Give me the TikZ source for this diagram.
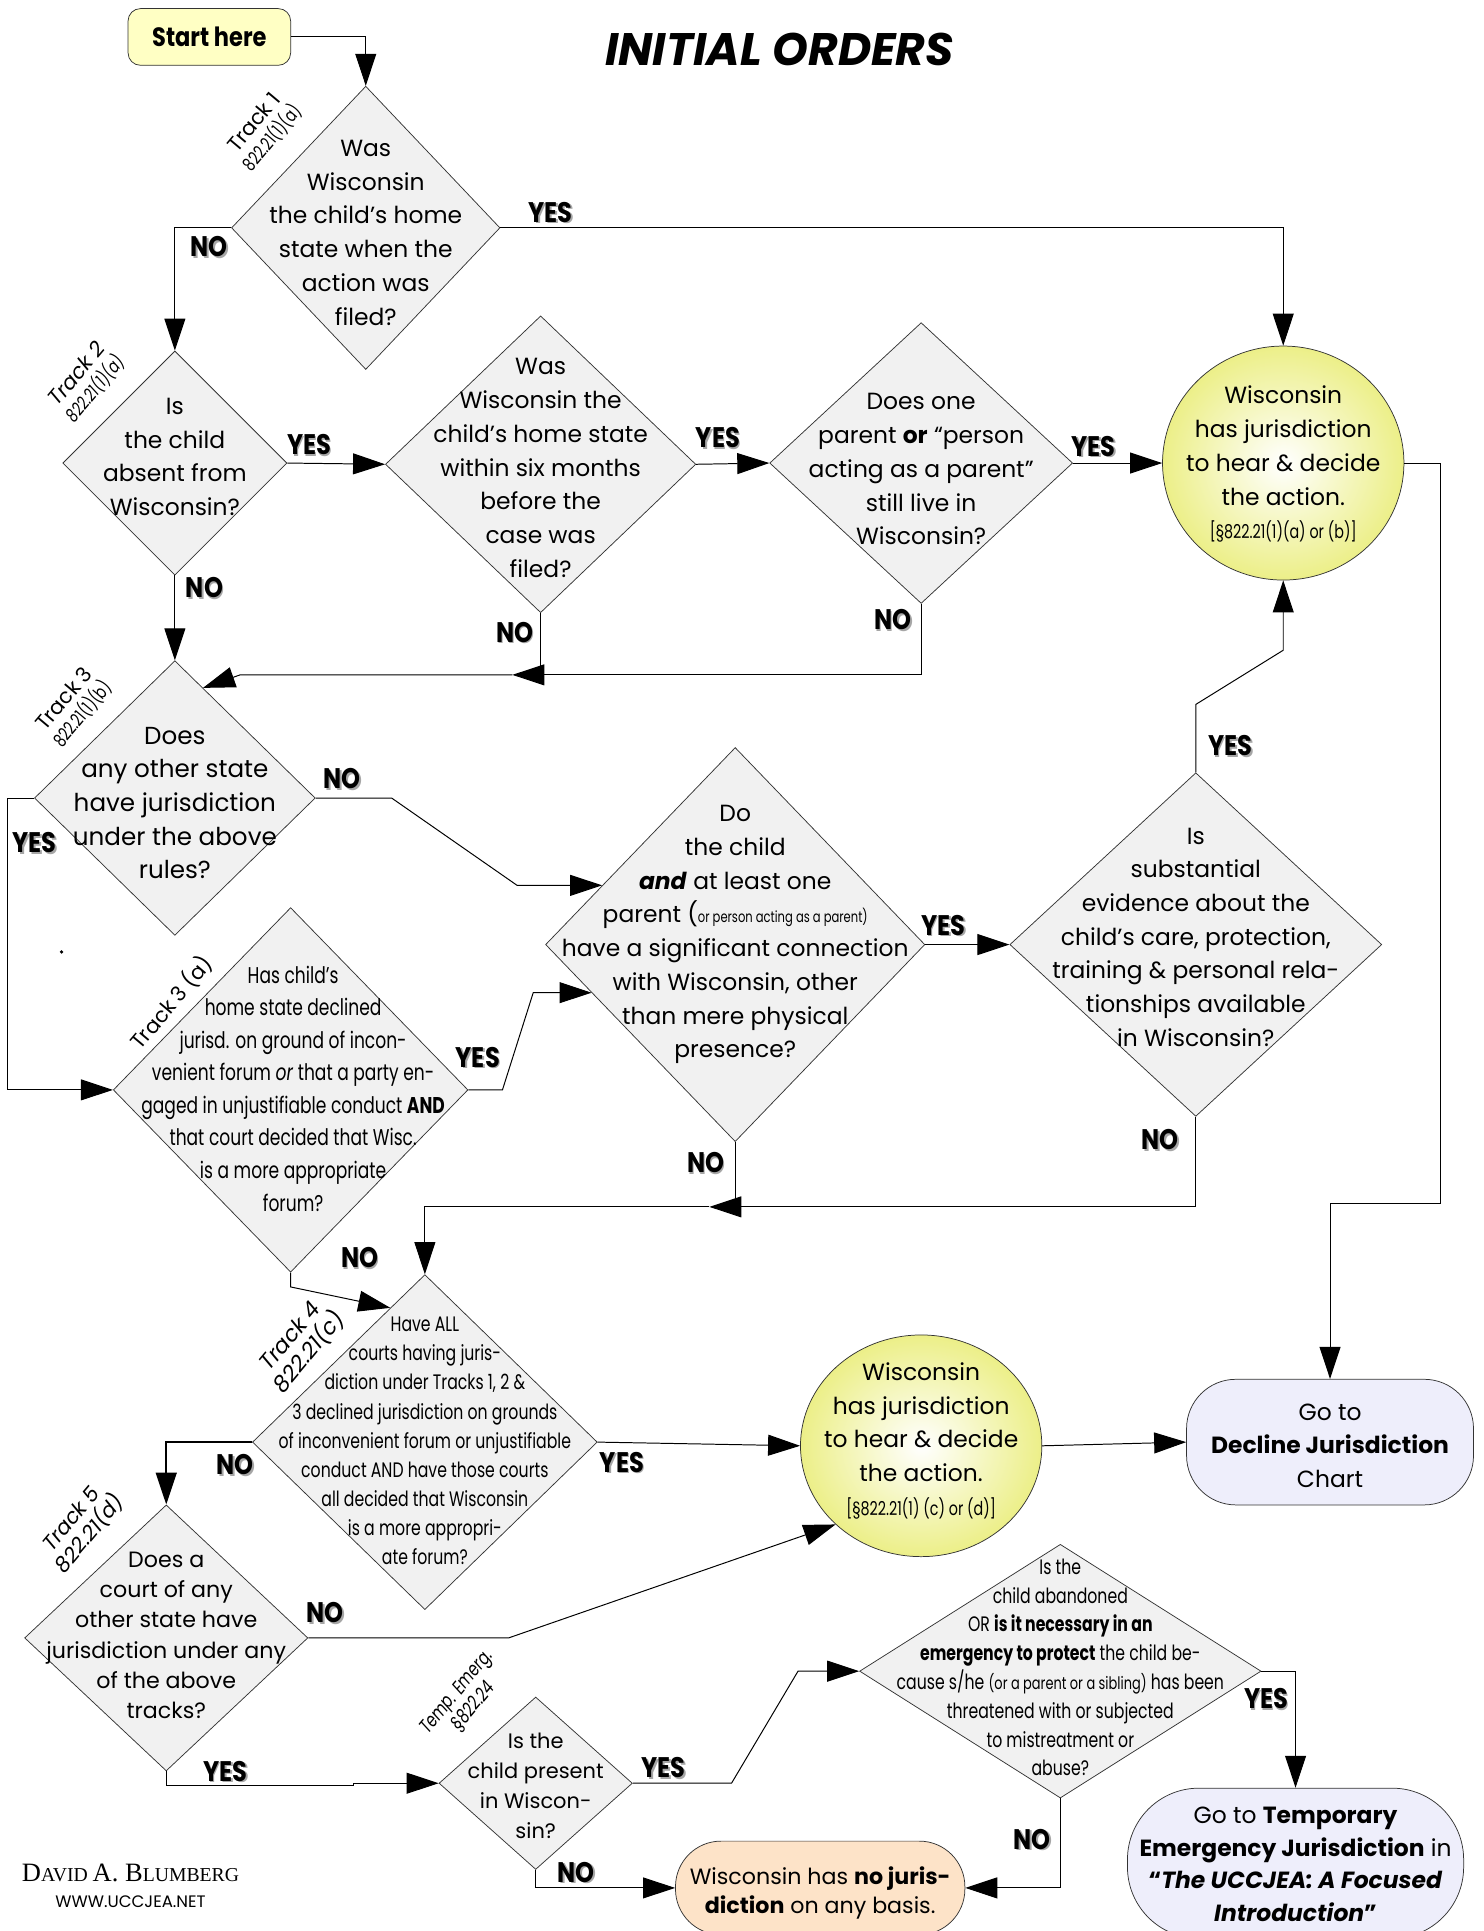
\documentclass[tikz,border=0pt]{standalone}
\usepackage{fontspec}
\setmainfont{Poppins}
\newfontfamily\condf[FakeStretch=0.75]{Poppins}
\newfontfamily\labf[FakeStretch=0.85]{Poppins}
\newfontfamily\serf{Liberation Serif}
\usetikzlibrary{shapes.geometric,arrows.meta,calc}
\definecolor{diafill}{HTML}{F1F1F1}
\definecolor{startfill}{HTML}{FFFFC4}
\definecolor{ellin}{HTML}{FFFFFF}
\definecolor{ellout}{HTML}{ECEF88}
\definecolor{lavfill}{HTML}{EEEEFB}
\definecolor{peachfill}{HTML}{FDE3C8}
\newcommand\fs[2]{\fontsize{#1}{#2}\selectfont}
\newcommand\shtext[1]{\rlap{\color{black!35}\raisebox{-1.3pt}{\kern1.3pt #1}}#1}
\tikzset{
  dia/.style={shape=diamond, draw=black!80, line width=0.6pt, fill=diafill, inner sep=0pt},
  txt/.style={align=center, inner sep=0pt, font=\fs{19}{27.4}},
  ctxt/.style={align=center, inner sep=0pt, font=\condf\fs{17}{23.6}},
  lab/.style={inner sep=0pt, font=\labf\bfseries\fs{23}{23}},
  ln/.style={line width=0.8pt, draw=black},
  arr/.style={ln, -{Triangle[length=26pt,width=17pt]}},
  trk/.style={align=center, inner sep=0pt, font=\fs{17}{19}},
  ell/.style={shape=ellipse, draw=black!80, line width=0.6pt, inner sep=0pt, shading=radial, inner color=ellin, outer color=ellout},
  rbox/.style={shape=rectangle, draw=black!80, line width=0.6pt, inner sep=0pt},
}
\newcommand\YES{\shtext{YES}}
\newcommand\NO{\shtext{NO}}
\begin{document}
\begin{tikzpicture}[x=1pt,y=-1pt]
\useasboundingbox (0,0) rectangle (1205,1568);
\fill[white] (0,0) rectangle (1205,1568);

% title and start
\node[font=\bfseries\itshape\fs{37}{37}] (title) at (633,40) {INITIAL ORDERS};
\node[rbox, rounded corners=10pt, fill=startfill, minimum width=132pt, minimum height=46pt, font=\labf\bfseries\fs{21.5}{21.5}] (start) at (170,30) {Start here};

% decision shapes
\node[dia, minimum width=218pt, minimum height=230pt] (D1) at (297,185) {};
\node[txt] (D1t) at (297,189) {Was\\Wisconsin\\the child’s home\\state when the\\action was\\filed?};

\node[dia, minimum width=182pt, minimum height=182pt] (D2) at (142,376) {};
\node[txt] (D2t) at (142,371) {Is\\the child\\absent from\\Wisconsin?};

\node[dia, minimum width=252pt, minimum height=241pt] (D3) at (439,377) {};
\node[txt] (D3t) at (439,380) {Was\\Wisconsin the\\child’s home state\\within six months\\before the\\case was\\filed?};

\node[dia, minimum width=246pt, minimum height=228pt] (D4) at (748,376) {};
\node[txt] (D4t) at (748,381) {Does one\\parent \textbf{or} “person\\acting as a parent”\\still live in\\Wisconsin?};

\node[ell, minimum width=196pt, minimum height=190pt] (E1) at (1042,376) {};
\node[txt] (E1t) at (1042,377) {Wisconsin\\has jurisdiction\\to hear \& decide\\the action.\\{\condf\fs{15.5}{20}[§822.21(1)(a) or (b)]}};

\node[dia, minimum width=228pt, minimum height=223pt] (D5) at (142,648) {};
\node[txt, font=\fs{20}{27.3}] (D5t) at (142,652) {Does\\any other state\\have jurisdiction\\under the above\\rules?};

\node[dia, minimum width=308pt, minimum height=320pt] (D6) at (597,767) {};
\node[txt] (D6t) at (597,759) {Do\\the child\\\textbf{\textit{and}} at least one\\parent ({\condf\fs{12.5}{12}or person acting as a parent)}\\have a significant connection\\with Wisconsin, other\\than mere physical\\presence?};

\node[dia, minimum width=288pt, minimum height=296pt] (D7) at (236,885) {};
\node[ctxt, font=\condf\fs{18.5}{26.4}] (D7t) at (238,884) {Has child’s\\home state declined\\jurisd. on ground of incon-\\venient forum \textit{or} that a party en-\\gaged in unjustifiable conduct \textbf{AND}\\that court decided that Wisc.\\is a more appropriate\\forum?};

\node[dia, minimum width=302pt, minimum height=279pt] (D8) at (971,767) {};
\node[txt] (D8t) at (971,761) {Is\\substantial\\evidence about the\\child’s care, protection,\\training \& personal rela-\\tionships available\\in Wisconsin?};

\node[dia, minimum width=280pt, minimum height=272pt] (D9) at (345,1171) {};
\node[ctxt] (D9t) at (345,1170) {Have ALL\\courts having juris-\\diction under Tracks 1, 2 \&\\3 declined jurisdiction on grounds\\of inconvenient forum or unjustifiable\\conduct AND have those courts\\all decided that Wisconsin\\is a more appropri-\\ate forum?};

\node[ell, minimum width=196pt, minimum height=180pt] (E2) at (748,1174) {};
\node[txt] (E2t) at (748,1170) {Wisconsin\\has jurisdiction\\to hear \& decide\\the action.\\{\condf\fs{15.5}{20}[§822.21(1) (c) or (d)]}};

\node[rbox, rounded corners=40pt, fill=lavfill, minimum width=233pt, minimum height=102pt] (Decline) at (1080,1171) {};
\node[txt] (Declinet) at (1080,1174) {Go to\\\textbf{Decline Jurisdiction}\\Chart};

\node[dia, minimum width=230pt, minimum height=216pt] (D10) at (135,1330) {};
\node[txt, font=\fs{18}{24.6}] (D10t) at (135,1328) {Does a\\court of any\\other state have\\jurisdiction under any\\of the above\\tracks?};

\node[dia, minimum width=157pt, minimum height=140pt] (D11) at (435,1448) {};
\node[txt, font=\fs{17}{24.5}] (D11t) at (435,1450) {Is the\\child present\\in Wiscon-\\sin?};

\node[dia, minimum width=326pt, minimum height=206pt] (D12) at (861,1357) {};
\node[ctxt, font=\condf\fs{17}{23.4}] (D12t) at (861,1354) {Is the\\child abandoned\\OR \textbf{is it necessary in an}\\\textbf{emergency to protect} the child be-\\cause s/he {\fs{14}{14}(or a parent or a sibling)} has been\\threatened with or subjected\\to mistreatment or\\abuse?};

\node[rbox, rounded corners=37pt, fill=peachfill, minimum width=235pt, minimum height=76pt] (NoJ) at (666,1533) {};
\node[txt, font=\fs{18}{24}] (NoJt) at (666,1537) {Wisconsin has \textbf{no juris-}\\\textbf{diction} on any basis.};

\node[rbox, rounded corners=58pt, fill=lavfill, minimum width=273pt, minimum height=122pt] (Temp) at (1052,1513) {};
\node[txt, font=\fs{19}{26.5}] (Tempt) at (1052,1514) {Go to \textbf{Temporary}\\\textbf{Emergency Jurisdiction} in\\\textbf{“\textit{The UCCJEA: A Focused}}\\\textbf{\textit{Introduction}”}};

% track labels
\node[trk, rotate=50] (tr1) at (214,106) {Track 1\\{\condf\fs{15}{15}822.21(1)(a)}};
\node[trk, rotate=50] (tr2) at (70,310) {\itshape Track 2\\{\condf\itshape\fs{15}{15}822.21(1)(a)}};
\node[trk, rotate=50] (tr3) at (60,574) {Track 3\\{\condf\fs{15}{15}822.21(1)(b)}};
\node[trk, rotate=50, font=\fs{17}{17}] (tr3a) at (139,814) {Track 3 (a)};
\node[trk, rotate=50, font=\itshape\fs{18}{20}] (tr4) at (244,1092) {Track 4\\822.21(c)};
\node[trk, rotate=50, font=\itshape\fs{17}{19}] (tr5) at (66,1240) {Track 5\\822.21(d)};
\node[trk, rotate=50, font=\condf\itshape\fs{16}{18}] (trT) at (378,1380) {Temp. Emerg.\\§822.24};

% connectors
\draw[arr] (start.east) -| (D1.north);
\draw[arr] (D1.east) -| (E1.north);
\draw[arr] (D1.west) -| (D2.north);
\draw[arr] (D2.east) -- (D3.west);
\draw[arr] (D3.east) -- (D4.west);
\draw[arr] (D4.east) -- (E1.west);
\draw[arr] (D2.south) -- (D5.north);
\coordinate (j1) at (416,548);
\draw[arr] (D4.south) |- (j1);
\draw[ln] (D3.south) -- (D3.south |- j1);
\draw[arr] (j1) -- (195,548) -- ($(D5.north)!0.2!(D5.east)$);
\draw[arr] (D5.east) -- (318,648) -- (420,719) -- ($(D6.north)!0.7!(D6.west)$);
\draw[arr] (D5.west) -- (6,648) |- (D7.west);
\draw[arr] (D7.east) -- (408,885) -- (433,806) -- ($(D6.west)!0.244!(D6.south)$);
\draw[arr] (D6.east) -- (D8.west);
\draw[arr] (D8.north) -- (971,572) -- (1042,528) -- (E1.south);
\draw[arr] (E1.east) -- (1170,376) -- (1170,977) -- (1080,977) -- (Decline.north);
\coordinate (j2) at (576,980);
\draw[arr] (D8.south) |- (j2);
\draw[ln] (D6.south) -- (D6.south |- j2);
\draw[arr] (j2) -| (D9.north);
\draw[arr] (D7.south) -- (236,1045) -- ($(D9.north)!0.2!(D9.west)$);
\draw[arr] (D9.east) -- (E2.west);
\draw[arr, line width=1.6pt] (D9.west) -| (D10.north);
\draw[arr] (E2.east) -- (Decline.west);
\draw[arr] (D10.east) -- (413,1330) -- (E2.south west);
\draw[arr] (D10.south) -- (135,1450) -- (287,1450) -- (287,1448) -- (D11.west);
\draw[arr] (D11.east) -- (594,1448) -- (648,1357) -- (D12.west);
\draw[arr] (D11.south) -- (435,1533) -- (NoJ.west);
\draw[arr] (D12.east) -| (Temp.north);
\draw[arr] (D12.south) |- (NoJ.east);

% YES / NO labels
\node[lab] (l1y) at (447,173) {\YES};
\node[lab] (l1n) at (170,201) {\NO};
\node[lab] (l2y) at (251,362) {\YES};
\node[lab] (l2n) at (166,478) {\NO};
\node[lab] (l3y) at (583,356) {\YES};
\node[lab] (l3n) at (418,514) {\NO};
\node[lab] (l4y) at (888,363) {\YES};
\node[lab] (l4n) at (725,504) {\NO};
\node[lab] (l5n) at (278,633) {\NO};
\node[lab] (l5y) at (28,685) {\YES};
\node[lab] (l7y) at (388,859) {\YES};
\node[lab] (l7n) at (292,1022) {\NO};
\node[lab] (l6y) at (766,752) {\YES};
\node[lab] (l6n) at (573,945) {\NO};
\node[lab] (l8y) at (999,606) {\YES};
\node[lab] (l8n) at (942,926) {\NO};
\node[lab] (l9y) at (505,1188) {\YES};
\node[lab] (l9n) at (191,1190) {\NO};
\node[lab] (l10n) at (264,1310) {\NO};
\node[lab] (l10y) at (183,1439) {\YES};
\node[lab] (l11y) at (539,1436) {\YES};
\node[lab] (l11n) at (468,1521) {\NO};
\node[lab] (l12y) at (1028,1380) {\YES};
\node[lab] (l12n) at (838,1494) {\NO};

% stray dot and footer
\fill (50,773) circle (1.5pt);
\node[inner sep=0pt] (auth) at (106,1521) {\serf\fs{21.5}{21.5}D\fs{16}{16}AVID \fs{21.5}{21.5}A. B\fs{16}{16}LUMBERG};
\node[inner sep=0pt, font=\fs{13.5}{13.5}] (web) at (106,1544) {WWW.UCCJEA.NET};
\end{tikzpicture}
\end{document}
